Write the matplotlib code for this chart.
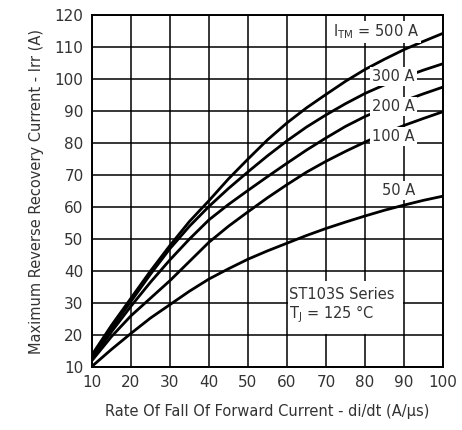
import numpy as np
import matplotlib
matplotlib.use('Agg')
import matplotlib.pyplot as plt
from matplotlib.patches import Rectangle

# rate of fall di/dt (A/us)
didt = [10, 15, 20, 25, 30, 35, 40, 45, 50, 55, 60, 65, 70, 75, 80, 85, 90, 95, 100]
# Irr (A) for each I_TM
irr_500 = [13.8, 23, 31.5, 40, 48, 55.5, 62, 68.8, 75, 81, 86.3, 91, 95.2, 99.3,
           103, 106.2, 109.2, 111.8, 114.3]
irr_300 = [13, 22, 30.5, 39, 47, 54, 60.2, 65.8, 71, 76, 80.7, 85, 88.8, 92.3,
           95.5, 98.2, 100.6, 102.8, 104.8]
irr_200 = [12.5, 21, 29, 36.5, 43.5, 50, 56, 60.8, 65.2, 69.5, 73.7, 77.8, 81.6,
           85.2, 88.3, 90.9, 93.2, 95.4, 97.5]
irr_100 = [12, 19.5, 26, 31.5, 37, 43, 49, 54, 58.5, 62.9, 67, 70.9, 74.3, 77.4,
           80.3, 83, 85.5, 87.7, 89.8]
irr_50 = [10.2, 15.5, 20.5, 25.3, 29.5, 33.7, 37.5, 40.7, 43.7, 46.3, 48.7, 51.1,
          53.3, 55.3, 57.2, 59, 60.6, 62.1, 63.4]

series = [irr_500, irr_300, irr_200, irr_100, irr_50]
labels = ['$\\mathregular{I_{TM}}$ = 500 A', '300 A', '200 A', '100 A', '50 A']
label_y = [114.8, 100.7, 91.3, 82.0, 65.1]

xticks = [10, 20, 30, 40, 50, 60, 70, 80, 90, 100]
yticks = [10, 20, 30, 40, 50, 60, 70, 80, 90, 100, 110, 120]

plt.rcParams['font.family'] = ['DejaVu Sans']
fig = plt.figure(figsize=(4.62, 4.30), dpi=100)
ax = fig.add_axes([0.199, 0.1465, 0.76, 0.8185])

for s in series:
    ax.plot(didt, s, color='black', lw=2.0, zorder=3, solid_capstyle='butt')

ax.set_xlim(10, 100)
ax.set_ylim(10, 120)
ax.set_xticks(xticks)
ax.set_yticks(yticks)
ax.tick_params(length=0, labelsize=11, pad=6, colors='#333333')
ax.grid(True, color='black', lw=1.1, zorder=1)
ax.set_axisbelow(True)
for sp in ax.spines.values():
    sp.set_linewidth(1.4)
    sp.set_zorder(4)

# curve labels with white background
for i, (lab, yy) in enumerate(zip(labels, label_y)):
    if i == 0:
        ax.text(71.8, yy, lab, fontsize=10.5, ha='left', va='center', zorder=5,
                color='#333333',
                bbox=dict(facecolor='white', edgecolor='none', pad=1.2))
    else:
        ax.text(92.8, yy, lab, fontsize=10.5, ha='right', va='center', zorder=5,
                color='#333333',
                bbox=dict(facecolor='white', edgecolor='none', pad=1.5))

ax.add_patch(Rectangle((60.3, 20.3), 29.4, 16.5, facecolor='white',
                       edgecolor='none', zorder=2))
ax.text(60.5, 32.8, 'ST103S Series', fontsize=10.5, ha='left', va='center',
        zorder=5, color='#333333')
ax.text(60.5, 26.5, '$\\mathregular{T_J}$ = 125 °C', fontsize=10.5, ha='left',
        va='center', zorder=5, color='#333333')

ax.set_xlabel('Rate Of Fall Of Forward Current - di/dt (A/μs)', fontsize=10.5,
              labelpad=10, color='#333333')
ax.set_ylabel('Maximum Reverse Recovery Current - Irr (A)', fontsize=10.5,
              labelpad=8, color='#333333')

fig.savefig('out.png', dpi=100)
